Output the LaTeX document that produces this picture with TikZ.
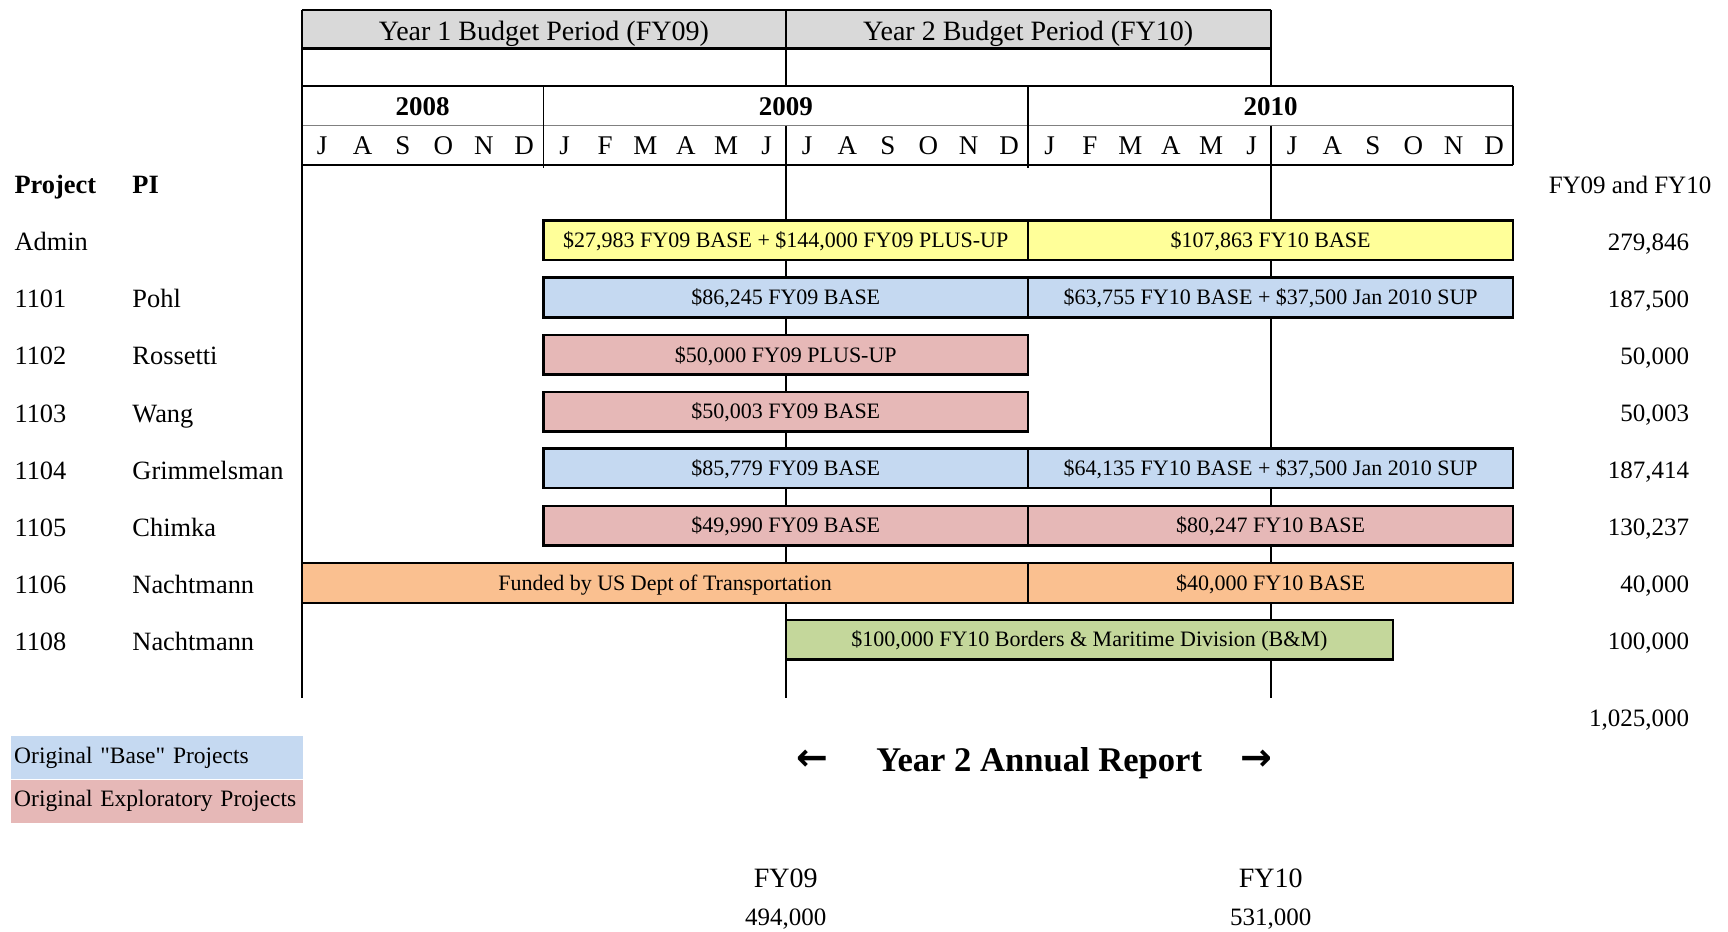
\documentclass[tikz,border=0pt]{standalone}
\usepackage{fontspec}
\setmainfont{Liberation Serif}
\newfontfamily\legfont{Liberation Serif}
\newfontfamily\arrowfont{DejaVu Sans}
\usepackage{tikz}
\usetikzlibrary{positioning}
\definecolor{hdrgray}{HTML}{D9D9D9}
\definecolor{baseblue}{HTML}{C5D9F1}
\definecolor{explpink}{HTML}{E6B8B7}
\definecolor{adminyellow}{HTML}{FFFF99}
\definecolor{dotorange}{HTML}{FAC090}
\definecolor{bmgreen}{HTML}{C4D79B}
\tikzstyle{rule} = [draw, line width=2pt]
\tikzstyle{hdr} = [inner sep=0pt, text height=18.5pt, text depth=0pt, font=\fontsize{28}{32}\selectfont]
\tikzstyle{yr} = [inner sep=0pt, font=\fontsize{27}{30}\selectfont\bfseries]
\tikzstyle{mon} = [inner sep=0pt, font=\fontsize{27}{30}\selectfont]
\tikzstyle{lbl} = [anchor=west, inner sep=0pt, text height=17.5pt, text depth=0pt, font=\fontsize{26.4}{30}\selectfont]
\tikzstyle{tot} = [anchor=east, inner sep=0pt, text height=16.5pt, text depth=0pt, font=\fontsize{25}{30}\selectfont]
\tikzstyle{bar} = [draw, line width=2.5pt, rectangle, text centered, inner sep=0pt, outer sep=0pt, minimum height=39.7pt, text height=14.5pt, text depth=0pt, font=\fontsize{22}{24}\selectfont]
\tikzstyle{legend} = [anchor=north west, inner xsep=3pt, inner ysep=0pt, text width=286pt, minimum height=43pt, font=\fontsize{23.5}{26}\legfont]
\tikzstyle{arr} = [inner sep=0pt, font=\fontsize{38}{40}\arrowfont\bfseries]
\tikzset{barw/.style={minimum width=#1*1.102pt}}

\begin{document}
\begin{tikzpicture}[x=1.102pt, y=-1.102pt]
        \useasboundingbox (0,0) rectangle (1568,845);
        % header grid
        \fill[hdrgray] (274,9) rectangle (1153,44);
        \draw[rule] (274,9) -- (1153,9);
        \draw[line width=3pt] (274,44) -- (1153,44);
        \draw[rule] (274,78) -- (1373,78);
        \draw[line width=1.5pt, gray] (274,114) -- (1373,114);
        \draw[rule] (274,150) -- (1373,150);
        \draw[rule] (1373,78) -- (1373,150);
        \draw[line width=1.5pt] (493,78) -- (493,152);
        \draw[line width=1.5pt] (933,78) -- (933,152);
        \draw[rule] (274,9) -- (274,633);
        \draw[rule] (713,9) -- (713,78);
        \draw[rule] (713,114) -- (713,633);
        \draw[rule] (1153,9) -- (1153,78);
        \draw[rule] (1153,114) -- (1153,633);
        \node[hdr] (per09) at (493.5,28) {Year 1 Budget Period (FY09)};
        \node[hdr] (per10) at (933,28) {Year 2 Budget Period (FY10)};
        \node[yr] (y2008) at (383.5,97) {2008};
        \node[yr] (y2009) at (713,97) {2009};
        \node[yr] (y2010) at (1153,97) {2010};
        \foreach \m [count=\i from 0] in {J,A,S,O,N,D,J,F,M,A,M,J,J,A,S,O,N,D,J,F,M,A,M,J,J,A,S,O,N,D}
            \node[mon] (m\i) at ({292.3+36.67*\i},132) {\m};
        % row labels
        \node[lbl, font=\fontsize{26.4}{30}\selectfont\bfseries] (project) at (13,168) {Project};
        \node[lbl, font=\fontsize{26.4}{30}\selectfont\bfseries] (pi) at (120,168) {PI};
        \node[tot, anchor=east] (totals) at (1553,168) {FY09 and FY10};
        \foreach \num/\who/\sum [count=\r] in {Admin//279{,}846, 1101/Pohl/187{,}500, 1102/Rossetti/50{,}000, 1103/Wang/50{,}003, 1104/Grimmelsman/187{,}414, 1105/Chimka/130{,}237, 1106/Nachtmann/40{,}000, 1108/Nachtmann/100{,}000} {
            \node[lbl] (num\r) at (13,{168+51.75*\r}) {\num};
            \node[lbl] (who\r) at (120,{168+51.75*\r}) {\who};
            \node[tot] (sum\r) at (1533,{168+51.75*\r}) {\sum};
        }
        % bars
        \node[bar, barw=440, fill=adminyellow] (adm09) at (713,218) {\$27,983 FY09 BASE + \$144,000 FY09 PLUS-UP};
        \node[bar, barw=440, fill=adminyellow, right=0pt of adm09] (adm10) {\$107,863 FY10 BASE};
        \node[bar, barw=440, fill=baseblue] (pohl09) at (713,270) {\$86,245 FY09 BASE};
        \node[bar, barw=440, fill=baseblue, right=0pt of pohl09] (pohl10) {\$63,755 FY10 BASE + \$37,500 Jan 2010 SUP};
        \node[bar, barw=440, fill=explpink] (ross09) at (713,322) {\$50,000 FY09 PLUS-UP};
        \node[bar, barw=440, fill=explpink] (wang09) at (713,373.5) {\$50,003 FY09 BASE};
        \node[bar, barw=440, fill=baseblue] (grim09) at (713,425) {\$85,779 FY09 BASE};
        \node[bar, barw=440, fill=baseblue, right=0pt of grim09] (grim10) {\$64,135 FY10 BASE + \$37,500 Jan 2010 SUP};
        \node[bar, barw=440, fill=explpink] (chim09) at (713,477) {\$49,990 FY09 BASE};
        \node[bar, barw=440, fill=explpink, right=0pt of chim09] (chim10) {\$80,247 FY10 BASE};
        \node[bar, barw=659, fill=dotorange] (dot09) at (603.5,529) {Funded by US Dept of Transportation};
        \node[bar, barw=440, fill=dotorange, right=0pt of dot09] (dot10) {\$40,000 FY10 BASE};
        \node[bar, barw=551, fill=bmgreen] (bm10) at (988.5,580.5) {\$100,000 FY10 Borders \& Maritime Division (B\&M)};
        \node[tot] (grand) at (1533,652) {1,025,000};
        % legend
        \node[legend, fill=baseblue] (keybase) at (10,668) {Original "Base" Projects};
        \node[legend, fill=explpink, below=0pt of keybase] (keyexpl) {Original Exploratory Projects};
        % report period
        \node[inner sep=0pt, text height=22pt, text depth=0pt, font=\fontsize{34.6}{38}\selectfont\bfseries] (report) at (943,690) {Year 2 Annual Report};
        \node[arr] (larr) at (737,690) {←};
        \node[arr] (rarr) at (1140,690) {→};
        \node[hdr] (fy09) at (713,797) {FY09};
        \node[tot, anchor=center] (fy09sum) at (713,832) {494,000};
        \node[hdr] (fy10) at (1153,797) {FY10};
        \node[tot, anchor=center] (fy10sum) at (1153,832) {531,000};
    \end{tikzpicture}
\end{document}
